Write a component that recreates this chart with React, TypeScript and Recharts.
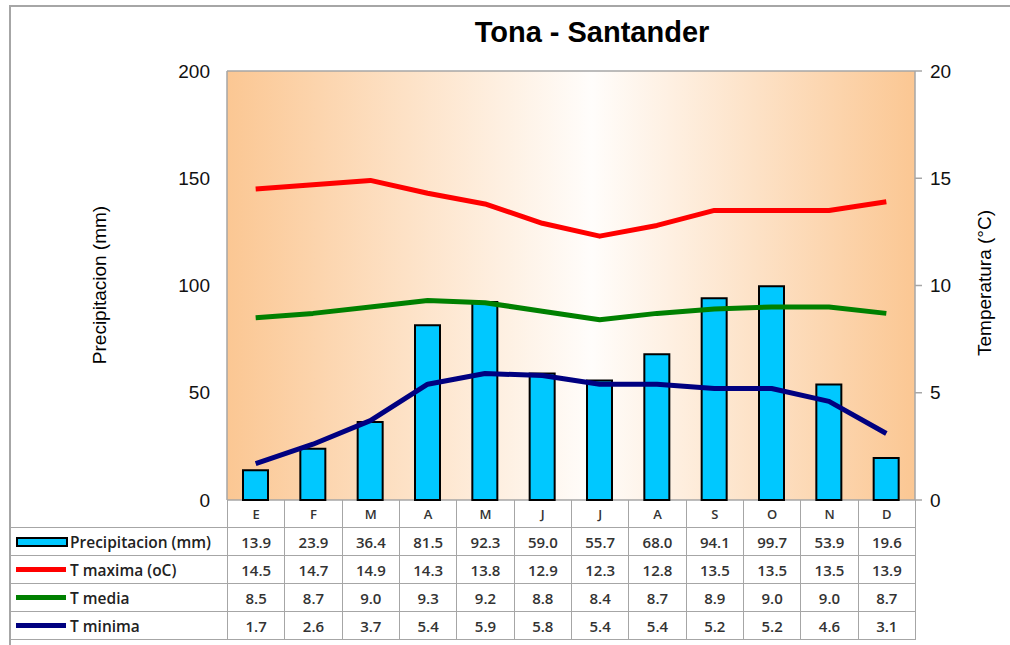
import React from 'react';
import { ComposedChart, Bar, Line, XAxis, YAxis, CartesianGrid } from 'recharts';

const months = ['E', 'F', 'M', 'A', 'M', 'J', 'J', 'A', 'S', 'O', 'N', 'D'];
const precipitacion = [13.9, 23.9, 36.4, 81.5, 92.3, 59.0, 55.7, 68.0, 94.1, 99.7, 53.9, 19.6];
const tMaxima = [14.5, 14.7, 14.9, 14.3, 13.8, 12.9, 12.3, 12.8, 13.5, 13.5, 13.5, 13.9];
const tMedia = [8.5, 8.7, 9.0, 9.3, 9.2, 8.8, 8.4, 8.7, 8.9, 9.0, 9.0, 8.7];
const tMinima = [1.7, 2.6, 3.7, 5.4, 5.9, 5.8, 5.4, 5.4, 5.2, 5.2, 4.6, 3.1];
const leftTicks = [0, 50, 100, 150, 200];
const rightTicks = [0, 5, 10, 15, 20];

const data = months.map((m, i) => ({
  key: `${m}${i}`,
  m,
  p: precipitacion[i],
  tmax: tMaxima[i],
  tmed: tMedia[i],
  tmin: tMinima[i],
}));

const FONT = '"Liberation Sans", Arial, sans-serif';
const PLOT_LEFT = 227;
const PLOT_RIGHT = 915;
const PLOT_BOTTOM = 500;
const COL_W = (PLOT_RIGHT - PLOT_LEFT) / 12;
const GRID = '#a6a6a6';

const rows = [
  { label: 'Precipitacion (mm)', values: precipitacion, kind: 'bar', color: '#00c8ff' },
  { label: 'T maxima (oC)', values: tMaxima, kind: 'line', color: '#ff0000' },
  { label: 'T media', values: tMedia, kind: 'line', color: '#008000' },
  { label: 'T minima', values: tMinima, kind: 'line', color: '#000080' },
];

const DataTable = () => {
  const cell: React.CSSProperties = {
    position: 'absolute',
    boxSizing: 'border-box',
    display: 'flex',
    alignItems: 'center',
    justifyContent: 'center',
    fontFamily: '"Open Sans", sans-serif',
    fontWeight: 600,
    fontSize: 15,
    color: '#333',
  };
  const out: React.ReactNode[] = [];
  // month letters row
  months.forEach((m, i) => {
    out.push(
      <div key={`h${i}`} style={{ ...cell, left: PLOT_LEFT + i * COL_W, top: PLOT_BOTTOM, width: COL_W + 1, height: 28, borderLeft: `1px solid ${GRID}`, borderRight: `1px solid ${GRID}`, borderBottom: `1px solid ${GRID}`, fontSize: 13 }}>
        {m}
      </div>
    );
  });
  rows.forEach((r, ri) => {
    const top = 527 + ri * 28;
    out.push(
      <div key={`l${ri}`} style={{ ...cell, justifyContent: 'flex-start', left: 10, top, width: PLOT_LEFT - 10 + 1, height: 29, border: `1px solid ${GRID}`, fontSize: 15.5, color: '#222', paddingLeft: 5 }}>
        {r.kind === 'bar' ? (
          <span style={{ display: 'inline-block', width: 52, height: 10, background: r.color, border: '2px solid #000', boxSizing: 'border-box', marginRight: 2 }} />
        ) : (
          <span style={{ display: 'inline-block', width: 50, height: 5, background: r.color, marginRight: 4 }} />
        )}
        {r.label}
      </div>
    );
    r.values.forEach((v, i) => {
      out.push(
        <div key={`c${ri}-${i}`} style={{ ...cell, left: PLOT_LEFT + i * COL_W, top, width: COL_W + 1, height: 29, border: `1px solid ${GRID}` }}>
          {v.toFixed(1)}
        </div>
      );
    });
  });
  return <>{out}</>;
};

export default function App() {
  return (
    <div style={{ position: 'absolute', left: 0, top: 0, width: 1010, height: 645, overflow: 'hidden', background: '#fff', fontFamily: FONT }}>
      <div style={{ position: 'absolute', left: 9, top: 5, width: 1010, height: 650, borderTop: `2px solid ${GRID}`, borderLeft: `2px solid ${GRID}` }} />
      <div style={{ position: 'absolute', left: 0, top: 0 }}>
        <ComposedChart width={1010} height={645} data={data} margin={{ top: 71, right: 35, bottom: 145, left: 167 }}>
          <defs>
            <linearGradient id="bg" x1="0" y1="0" x2="1" y2="0">
              <stop offset="0%" stopColor="#fbc793" />
              <stop offset="53%" stopColor="#fffdfb" />
              <stop offset="100%" stopColor="#fbc793" />
            </linearGradient>
          </defs>
          <CartesianGrid vertical={false} fill="url(#bg)" stroke={GRID} strokeWidth={1.5} />
          <XAxis dataKey="key" hide />
          <YAxis
            yAxisId="p"
            orientation="left"
            width={60}
            domain={[0, 200]}
            ticks={leftTicks}
            stroke={GRID}
            strokeWidth={1.5}
            tickLine={false}
            tickSize={0}
            tickMargin={17}
            tick={{ fontSize: 19, fill: '#111', fontFamily: FONT }}
          />
          <YAxis
            yAxisId="t"
            orientation="right"
            width={60}
            domain={[0, 20]}
            ticks={rightTicks}
            stroke={GRID}
            strokeWidth={1.5}
            tickSize={7}
            tickMargin={8}
            tick={{ fontSize: 19, fill: '#111', fontFamily: FONT }}
          />
          <Bar yAxisId="p" dataKey="p" fill="#00c8ff" stroke="#000" strokeWidth={2} barSize={25} isAnimationActive={false} />
          <Line yAxisId="t" type="linear" dataKey="tmax" stroke="#ff0000" strokeWidth={5} strokeLinejoin="round" dot={false} isAnimationActive={false} />
          <Line yAxisId="t" type="linear" dataKey="tmed" stroke="#008000" strokeWidth={5} strokeLinejoin="round" dot={false} isAnimationActive={false} />
          <Line yAxisId="t" type="linear" dataKey="tmin" stroke="#000080" strokeWidth={5} strokeLinejoin="round" dot={false} isAnimationActive={false} />
        </ComposedChart>
      </div>
      <div style={{ position: 'absolute', left: 342, width: 500, top: 16, textAlign: 'center', fontWeight: 'bold', fontSize: 29, color: '#000' }}>
        Tona - Santander
      </div>
      <div style={{ position: 'absolute', left: 100, top: 285, transform: 'translate(-50%, -50%) rotate(-90deg)', whiteSpace: 'nowrap', fontSize: 19, color: '#000' }}>
        Precipitacion (mm)
      </div>
      <div style={{ position: 'absolute', left: 985, top: 283, transform: 'translate(-50%, -50%) rotate(-90deg)', whiteSpace: 'nowrap', fontSize: 19, color: '#000' }}>
        Temperatura (°C)
      </div>
      <DataTable />
    </div>
  );
}
